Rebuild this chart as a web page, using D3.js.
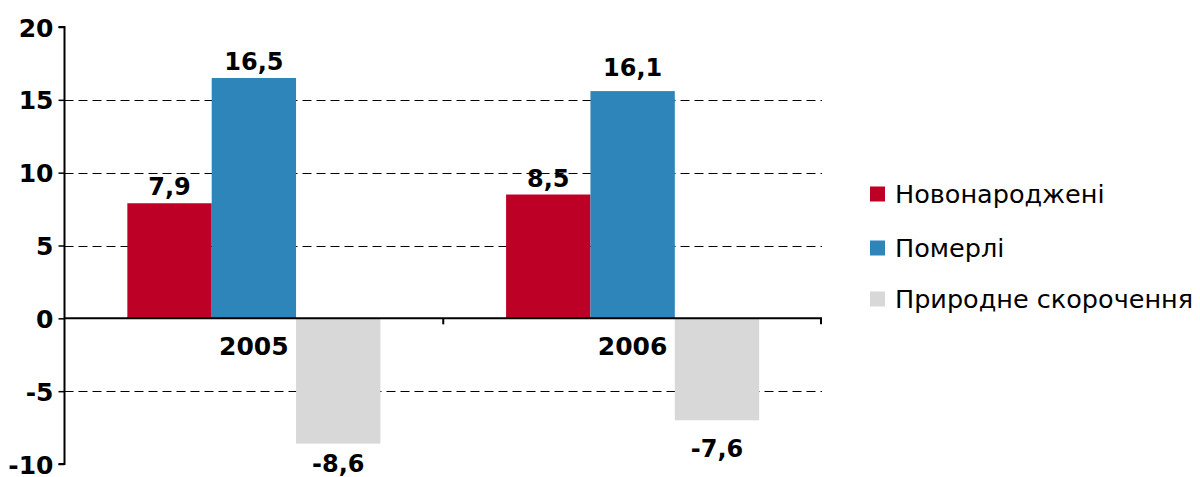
<!DOCTYPE html>
<html><head><meta charset="utf-8">
<script src="https://cdn.jsdelivr.net/npm/d3@7"></script>
<style>
body{margin:0;background:#fff;}
svg{display:block;}
</style></head>
<body><svg id="c" width="1200" height="477"></svg>
<script>
const categories = ["2005", "2006"];
const seriesNames = ["Новонароджені", "Померлі", "Природне скорочення"];
// bar heights as drawn in the picture
const births = [7.9, 8.5];
const deaths = [16.5, 15.6];
const naturalDecrease = [-8.6, -7.0];
// printed value labels
const birthsLabels = ["7,9", "8,5"];
const deathsLabels = ["16,5", "16,1"];
const decreaseLabels = ["-8,6", "-7,6"];
const yTicks = [-10, -5, 0, 5, 10, 15, 20];
const colors = ["#bd0026", "#2d85b9", "#d8d8d8"];

(function () {
const seriesValues = [births, deaths, naturalDecrease];
const seriesLabels = [birthsLabels, deathsLabels, decreaseLabels];

const svg = d3.select("#c");
const pLeft = 64.5, pRight = 822, pTop = 27, pBottom = 464;
const y = d3.scaleLinear().domain([-10, 20]).range([pBottom, pTop]);
const x0 = d3.scaleBand().domain(categories).range([pLeft, pRight]).padding(0);
const x1 = d3.scaleBand().domain(seriesNames).range([0, x0.bandwidth()]).paddingInner(0).paddingOuter(0.745);
const color = d3.scaleOrdinal().domain(seriesNames).range(colors);

const boldFont = "'DejaVu Sans', Verdana, sans-serif";

// gridlines
svg.append("g").selectAll("line")
  .data(yTicks.filter(t => t !== 0 && t !== 20 && t !== -10))
  .join("line")
  .attr("x1", pLeft).attr("x2", pRight)
  .attr("y1", d => Math.round(y(d)) + 0.5).attr("y2", d => Math.round(y(d)) + 0.5)
  .attr("stroke", "#000").attr("stroke-width", 1.2)
  .attr("stroke-dasharray", "9,5");

// bars
const data = [];
categories.forEach((c, i) => {
  seriesNames.forEach((s, j) => {
    const lab = seriesLabels[j][i];
    data.push({cat: c, series: s, value: seriesValues[j][i], label: lab, labelValue: +lab.replace(",", ".")});
  });
});

svg.append("g").selectAll("rect")
  .data(data).join("rect")
  .attr("x", d => x0(d.cat) + x1(d.series))
  .attr("width", x1.bandwidth())
  .attr("y", d => y(Math.max(0, d.value)))
  .attr("height", d => Math.abs(y(d.value) - y(0)))
  .attr("fill", d => color(d.series));

// value labels (positioned at the printed value)
svg.append("g").selectAll("text")
  .data(data).join("text")
  .attr("x", d => x0(d.cat) + x1(d.series) + x1.bandwidth() / 2)
  .attr("y", d => d.labelValue >= 0 ? y(d.labelValue) - 8 : y(d.labelValue) + 28)
  .attr("text-anchor", "middle")
  .attr("font-family", boldFont).attr("font-weight", "bold")
  .attr("font-size", 24).attr("fill", "#000")
  .text(d => d.label);

// x axis (zero line)
const xAxis = svg.append("g").attr("transform", `translate(0,${y(0)})`);
xAxis.append("line").attr("x1", pLeft).attr("x2", pRight).attr("y1", 0).attr("y2", 0)
  .attr("stroke", "#000").attr("stroke-width", 2);
xAxis.selectAll("line.tk")
  .data([x0("2006"), pRight - 1])
  .join("line").attr("class", "tk")
  .attr("x1", d => d).attr("x2", d => d).attr("y1", 0).attr("y2", 6)
  .attr("stroke", "#000").attr("stroke-width", 2);
xAxis.selectAll("text")
  .data(categories).join("text")
  .attr("x", d => x0(d) + x0.bandwidth() / 2)
  .attr("y", 37)
  .attr("text-anchor", "middle")
  .attr("font-family", boldFont).attr("font-weight", "bold")
  .attr("font-size", 25).attr("fill", "#000")
  .text(d => d);

// y axis
const yAxis = d3.axisLeft(y).tickValues(yTicks).tickSize(6).tickPadding(5).tickFormat(d3.format("d"));
const yg = svg.append("g").attr("transform", `translate(${pLeft},0)`).call(yAxis);
yg.select(".domain").attr("stroke", "#000").attr("stroke-width", 2).attr("fill", "none").attr("d", `M-6,${y(20)}H0V${y(-10)}H-6`);
yg.selectAll(".tick line").attr("stroke", "#000").attr("stroke-width", 1.5);
yg.selectAll(".tick text")
  .attr("font-family", boldFont).attr("font-weight", "bold")
  .attr("font-size", 25).attr("fill", "#000").attr("dy", "0.36em")
  .text(d => d < 0 ? "-" + Math.abs(d) : d);

// legend
const legend = svg.append("g").attr("transform", "translate(870,0)");
const legY = [194, 248, 299];
seriesNames.forEach((s, i) => {
  const g = legend.append("g").attr("transform", `translate(0,${legY[i]})`);
  g.append("rect").attr("x", 0).attr("y", -7.5).attr("width", 15).attr("height", 15).attr("fill", color(s));
  g.append("text").attr("x", 25).attr("y", 0).attr("dy", "0.36em")
    .attr("font-family", "'DejaVu Sans', sans-serif")
    .attr("font-size", 25.5).attr("fill", "#000").text(s);
});
})();
</script>
</body></html>
